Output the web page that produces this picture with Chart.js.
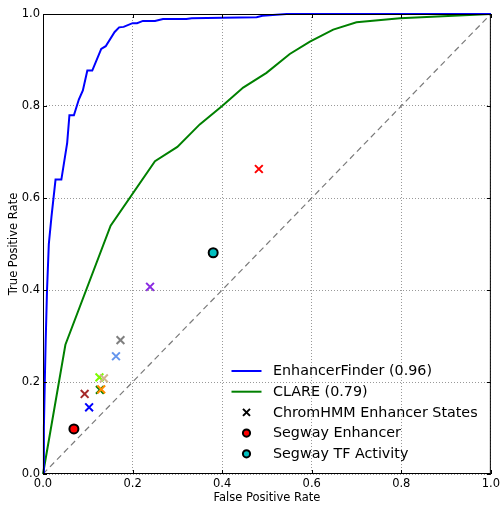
<!DOCTYPE html>
<html><head><meta charset="utf-8">
<script src="https://cdn.jsdelivr.net/npm/chart.js@4.4.1/dist/chart.umd.min.js"></script>
<style>html,body{margin:0;padding:0;background:#fff}#wrap{width:503px;height:505px}</style>
</head><body><div id="wrap"><canvas id="c" width="503" height="505"></canvas></div>
<script>
// ---- data ----
const efFpr = [0, 0.002, 0.004, 0.006, 0.009, 0.013, 0.019, 0.028, 0.041, 0.054, 0.059, 0.069, 0.080, 0.089, 0.099, 0.110, 0.130, 0.140, 0.160, 0.170, 0.180, 0.200, 0.210, 0.223, 0.250, 0.268, 0.320, 0.332, 0.400, 0.477, 0.490, 0.544, 1.0];
const efTpr = [0, 0.10, 0.20, 0.29, 0.40, 0.50, 0.56, 0.64, 0.64, 0.72, 0.78, 0.78, 0.814, 0.834, 0.877, 0.877, 0.924, 0.930, 0.961, 0.971, 0.972, 0.980, 0.980, 0.985, 0.985, 0.989, 0.989, 0.991, 0.992, 0.993, 0.996, 1.0, 1.0];
const clareFpr = [0, 0.050, 0.151, 0.250, 0.300, 0.350, 0.400, 0.447, 0.499, 0.551, 0.596, 0.648, 0.700, 0.797, 1.0];
const clareTpr = [0, 0.281, 0.540, 0.680, 0.711, 0.760, 0.800, 0.840, 0.872, 0.913, 0.940, 0.966, 0.982, 0.991, 1.0];
const chromFpr = [0.482, 0.239, 0.173, 0.163, 0.126, 0.136, 0.127, 0.130, 0.093, 0.103];
const chromTpr = [0.663, 0.407, 0.291, 0.256, 0.210, 0.208, 0.183, 0.184, 0.174, 0.145];
const segEnhFpr = [0.069];
const segEnhTpr = [0.098];
const segTfFpr = [0.380];
const segTfTpr = [0.481];
const diagFpr = [0, 1];
const diagTpr = [0, 1];
const tickValues = [0, 0.2, 0.4, 0.6, 0.8, 1.0];
const legendLabels = ['EnhancerFinder (0.96)', 'CLARE (0.79)', 'ChromHMM Enhancer States', 'Segway Enhancer', 'Segway TF Activity'];
// ---- styles ----
const chromColors = ['#ff0000', '#8a2be2', '#808080', '#6495ed', '#7cfc00', '#d2b48c', '#008000', '#ff8c00', '#a52a2a', '#0000ff'];

const pts = (xs, ys) => xs.map((x, i) => ({x: x, y: ys[i]}));
const FONT = 'DejaVu Sans';

const framePlugin = {
  id: 'frame',
  afterDraw(chart) {
    const ctx = chart.ctx, ca = chart.chartArea;
    const xs = chart.scales.x, ys = chart.scales.y;
    ctx.save();
    ctx.strokeStyle = '#000';
    ctx.lineWidth = 1;
    ctx.strokeRect(ca.left + 0.5, ca.top + 0.5, ca.right - ca.left - 1, ca.bottom - ca.top - 1);
    const tl = 4;
    ctx.beginPath();
    tickValues.forEach(v => {
      const px = Math.round(xs.getPixelForValue(v)) + 0.5;
      ctx.moveTo(px, ca.bottom); ctx.lineTo(px, ca.bottom - tl);
      ctx.moveTo(px, ca.top); ctx.lineTo(px, ca.top + tl);
      const py = Math.round(ys.getPixelForValue(v)) + 0.5;
      ctx.moveTo(ca.left, py); ctx.lineTo(ca.left + tl, py);
      ctx.moveTo(ca.right, py); ctx.lineTo(ca.right - tl, py);
    });
    ctx.stroke();

    // legend
    const hx0 = ca.left + 188.5, hx1 = ca.left + 218.5, mx = ca.left + 203.5, tx = ca.left + 230;
    const y0 = ca.top + 357, dy = 20.7;
    ctx.font = '14.3px "' + FONT + '"';
    ctx.textBaseline = 'middle';
    ctx.textAlign = 'left';
    legendLabels.forEach((lab, i) => {
      const y = y0 + i * dy;
      if (i === 0 || i === 1) {
        ctx.strokeStyle = i === 0 ? '#0000ff' : '#008000';
        ctx.lineWidth = 2;
        ctx.beginPath(); ctx.moveTo(hx0, y); ctx.lineTo(hx1, y); ctx.stroke();
      } else if (i === 2) {
        ctx.strokeStyle = '#000'; ctx.lineWidth = 2;
        const o = 3.5;
        ctx.beginPath();
        ctx.moveTo(mx - o, y - o); ctx.lineTo(mx + o, y + o);
        ctx.moveTo(mx - o, y + o); ctx.lineTo(mx + o, y - o);
        ctx.stroke();
      } else {
        ctx.fillStyle = i === 3 ? '#ff0000' : '#00bfbf';
        ctx.strokeStyle = '#000'; ctx.lineWidth = 2;
        ctx.beginPath(); ctx.arc(mx, y, 3.6, 0, Math.PI * 2); ctx.fill(); ctx.stroke();
      }
      ctx.fillStyle = '#000';
      ctx.fillText(lab, tx, y + 0.5);
    });
    ctx.restore();
  }
};

new Chart(document.getElementById('c'), {
  type: 'scatter',
  data: {
    datasets: [
      {label: 'Segway TF Activity', data: pts(segTfFpr, segTfTpr), pointStyle: 'circle', pointRadius: 4.5, pointBackgroundColor: '#00bfbf', pointBorderColor: '#000', pointBorderWidth: 2, showLine: false},
      {label: 'Segway Enhancer', data: pts(segEnhFpr, segEnhTpr), pointStyle: 'circle', pointRadius: 4.5, pointBackgroundColor: '#ff0000', pointBorderColor: '#000', pointBorderWidth: 2, showLine: false},
      {label: 'ChromHMM Enhancer States', data: pts(chromFpr, chromTpr), pointStyle: 'crossRot', pointRadius: 5.5, pointBorderColor: chromColors, pointBackgroundColor: chromColors, pointBorderWidth: 2, showLine: false},
      {label: 'EnhancerFinder (0.96)', data: pts(efFpr, efTpr), showLine: true, borderColor: '#0000ff', borderWidth: 2, pointRadius: 0, fill: false, clip: 2},
      {label: 'CLARE (0.79)', data: pts(clareFpr, clareTpr), showLine: true, borderColor: '#008000', borderWidth: 2, pointRadius: 0, fill: false, clip: 2},
      {label: 'diag', data: pts(diagFpr, diagTpr), showLine: true, borderColor: '#7a7a7a', borderWidth: 1.2, borderDash: [6, 4], pointRadius: 0, fill: false}
    ]
  },
  options: {
    responsive: false,
    animation: false,
    events: [],
    layout: {padding: {left: 0, right: 12, top: 14, bottom: 0}},
    plugins: {legend: {display: false}, tooltip: {enabled: false}},
    scales: {
      x: {
        type: 'linear', min: 0, max: 1,
        afterFit(s) { s.height = 31; },
        afterBuildTicks(s) { s.ticks = tickValues.map(v => ({value: v})); },
        ticks: {color: '#000', font: {family: FONT, size: 11.5}, padding: 3, callback: v => v.toFixed(1), maxRotation: 0, autoSkip: false},
        grid: {color: '#999', lineWidth: 1, drawTicks: false, tickLength: 0},
        border: {display: false, dash: [1, 2]},
        title: {display: true, text: 'False Positive Rate', color: '#000', font: {family: FONT, size: 11.5}, padding: {top: 0, bottom: 0}}
      },
      y: {
        type: 'linear', min: 0, max: 1,
        afterFit(s) { s.width = 43; },
        afterBuildTicks(s) { s.ticks = tickValues.map(v => ({value: v})); },
        ticks: {color: '#000', font: {family: FONT, size: 11.5}, padding: 3, callback: v => v.toFixed(1), autoSkip: false},
        grid: {color: '#999', lineWidth: 1, drawTicks: false, tickLength: 0},
        border: {display: false, dash: [1, 2]},
        title: {display: true, text: 'True Positive Rate', color: '#000', font: {family: FONT, size: 11.5}, padding: {top: 7, bottom: 0}}
      }
    }
  },
  plugins: [framePlugin]
});
</script>
</body></html>
